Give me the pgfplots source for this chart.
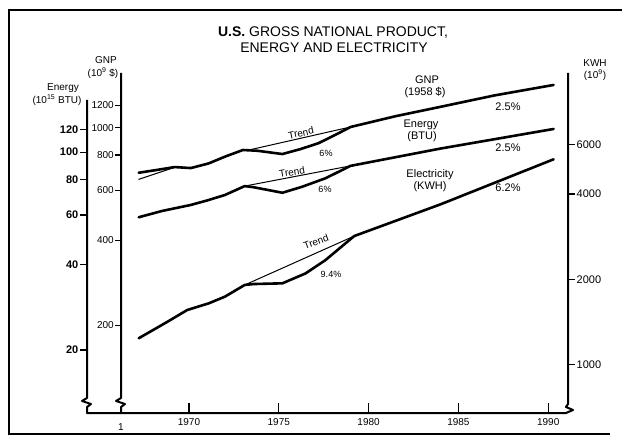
\documentclass[border=0pt]{standalone}
\usepackage{fontspec}
\setmainfont{Liberation Sans}
\usepackage{pgfplots}
\pgfplotsset{compat=1.18}
\pgfplotsset{
  mybase/.style={scale only axis, height=340pt,
    axis line style={draw=none,-},
    tick style={black, line width=1.3pt},
    /pgf/number format/assume math mode=true,
    yminorticks=false, xminorticks=false, clip=false,
    tick align=outside},
}
\tikzset{
  myact/.style={black, line width=2.6pt, line join=round, line cap=round},
  mytrd/.style={black, line width=1pt, line cap=round},
}
\begin{document}
\begin{tikzpicture}
\useasboundingbox (0pt,0pt) rectangle (622pt,-436pt);
% ---- Energy (left axis) ----
\begin{axis}[mybase, ymode=log, at={(87pt,-413pt)}, anchor=south west, width=480pt,
  xmin=1964.321, xmax=1991.047, ymin=11.98, ymax=190.5,
  hide x axis, axis y line*=left, major tick length=7pt,
  ytick={20,40,60,80,100,120}, yticklabels={20,40,60,80,100,120},
  yticklabel style={font=\fontsize{11}{13}\selectfont\bfseries, inner sep=1.5pt}]
\addplot[myact] coordinates {(1967.2,58.9) (1968.5,62) (1970.1,65.1) (1971,67.5) (1972,70.6) (1973.1,75.9) (1973.6,75.2) (1975.2,71.9) (1976.3,75.5) (1977.6,80.9) (1979,89.5) (1984,103) (1990.3,120.8)};
\addplot[mytrd] coordinates {(1973.1,75.9) (1979,89.5)};
\end{axis}
% ---- GNP axis ----
\begin{axis}[mybase, ymode=log, at={(121pt,-413pt)}, anchor=south west, width=446pt,
  xmin=1966.214, xmax=1991.047, ymin=98.1, ymax=1560.9,
  hide x axis, axis y line*=left, major tick length=6pt,
  ytick={200,400,600,800,1000,1200}, yticklabels={200,400,600,800,1000,1200},
  yticklabel style={font=\fontsize{10}{12}\selectfont, inner sep=1pt}]
\addplot[myact] coordinates {(1967.2,693) (1968.2,709) (1969.2,726) (1970.1,720) (1971.1,748) (1972,790) (1973,834) (1973.8,829) (1975.2,807) (1976.2,840) (1977.2,881) (1978.1,940) (1979,1006) (1981.5,1098) (1984,1185) (1987,1300) (1990.3,1416)};
\addplot[mytrd] coordinates {(1973.3,833) (1979,1006)};
\addplot[mytrd] coordinates {(1967.2,657) (1969.2,724)};
\end{axis}
% ---- KWH (right axis) ----
\begin{axis}[mybase, ymode=log, at={(87pt,-413pt)}, anchor=south west, width=480pt,
  xmin=1964.321, xmax=1991.047, ymin=674.1, ymax=10716,
  hide x axis, axis y line*=right, major tick length=8pt,
  ytick={1000,2000,4000,6000}, yticklabels={1000,2000,4000,6000},
  yticklabel style={font=\fontsize{11}{13}\selectfont, inner sep=1.5pt}]
\addplot[myact] coordinates {(1967.2,1238) (1968.8,1416) (1969.9,1558) (1971.1,1645) (1972,1737) (1973.1,1910) (1973.6,1925) (1975.2,1936) (1976.5,2100) (1977.6,2339) (1979.2,2844) (1984,3680) (1990.3,5309)};
\addplot[mytrd] coordinates {(1973.1,1910) (1979.2,2844)};
\end{axis}
% ---- x axis ----
\begin{axis}[mybase, at={(87pt,-413pt)}, anchor=south west, width=480pt,
  xmin=1964.321, xmax=1991.047, ymin=0, ymax=1,
  hide y axis, axis x line*=bottom, tick align=inside, major tick length=10pt,
  xtick={1970,1975,1980,1985,1990}, xticklabels={1970,1975,1980,1985,1990},
  xticklabel style={font=\fontsize{10}{12}\selectfont, inner sep=2pt, yshift=-3pt}]
\end{axis}
\begin{scope}[x=1pt,y=-1pt]
% frame
\draw[line width=1.6pt] (622,10) -- (9,10) -- (9,434) -- (610,434);
% axis lines with breaks
\draw[line width=2pt, line join=round] (87,100) -- (87,398) -- (82,401) -- (91,404) -- (87,407) -- (87,413) -- (566,413) -- (573,410) -- (566,407) -- (568,404) -- (568,73);
\draw[line width=2pt, line join=round] (121,73) -- (121,398) -- (116,401) -- (125,404) -- (121,407) -- (121,413);
\node[font=\fontsize{10}{12}\selectfont] at (121,427) {1};
% title
\node[font=\fontsize{14}{16}\selectfont] at (333,33) {\textbf{U.S.} GROSS NATIONAL PRODUCT,};
\node[font=\fontsize{14}{16}\selectfont] at (334,48) {ENERGY AND ELECTRICITY};
% axis titles
\node[font=\fontsize{10}{12}\selectfont] at (63,88) {Energy};
\node[font=\fontsize{10}{12}\selectfont] at (57,100) {(10\textsuperscript{15} BTU)};
\node[font=\fontsize{10}{12}\selectfont] at (106,60) {GNP};
\node[font=\fontsize{10}{12}\selectfont] at (103,73) {(10\textsuperscript{9} \$)};
\node[font=\fontsize{10}{12}\selectfont] at (595,63) {KWH};
\node[font=\fontsize{10}{12}\selectfont] at (595,75) {(10\textsuperscript{9})};
% series labels
\node[font=\fontsize{11}{13}\selectfont] at (427,80) {GNP};
\node[font=\fontsize{11}{13}\selectfont] at (425,93) {(1958 \$)};
\node[font=\fontsize{11}{13}\selectfont] at (421,125) {Energy};
\node[font=\fontsize{11}{13}\selectfont] at (422,137) {(BTU)};
\node[font=\fontsize{11}{13}\selectfont] at (430,175) {Electricity};
\node[font=\fontsize{11}{13}\selectfont] at (430,187) {(KWH)};
\node[font=\fontsize{11}{13}\selectfont] at (508,107) {2.5\%};
\node[font=\fontsize{11}{13}\selectfont] at (508,148) {2.5\%};
\node[font=\fontsize{11}{13}\selectfont] at (508,188) {6.2\%};
\node[font=\fontsize{10}{12}\selectfont, rotate=12] at (301,133) {Trend};
\node[font=\fontsize{10}{12}\selectfont, rotate=10] at (292,172) {Trend};
\node[font=\fontsize{10}{12}\selectfont, rotate=20] at (316,242) {Trend};
\node[font=\fontsize{9}{11}\selectfont] at (326,153) {6\%};
\node[font=\fontsize{9}{11}\selectfont] at (325,189) {6\%};
\node[font=\fontsize{9}{11}\selectfont] at (331,274) {9.4\%};
\end{scope}
\end{tikzpicture}
\end{document}
